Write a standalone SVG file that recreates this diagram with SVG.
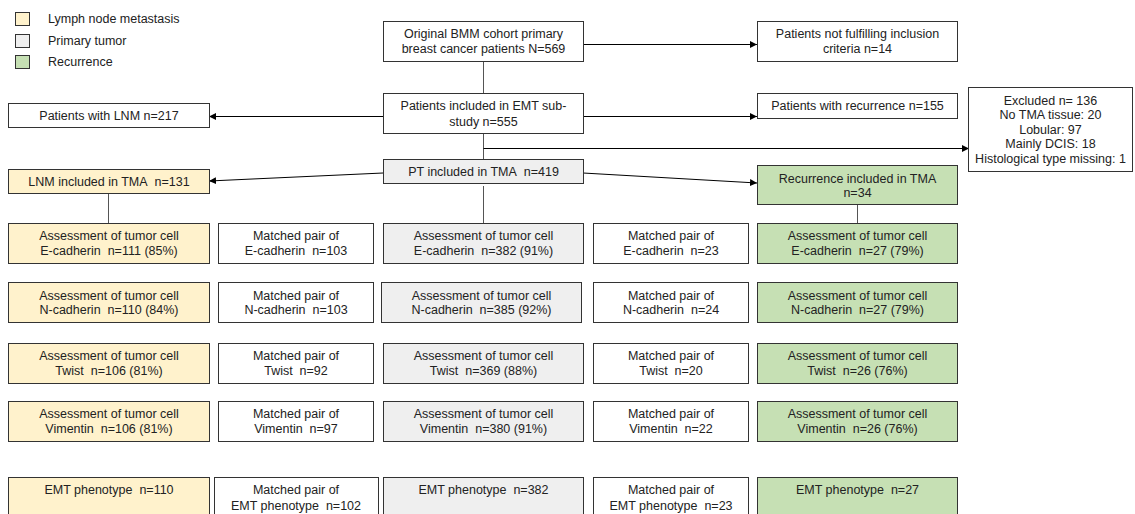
<svg xmlns="http://www.w3.org/2000/svg" width="1135" height="514" viewBox="0 0 1135 514">
<defs>
<marker id="ah" markerUnits="userSpaceOnUse" markerWidth="8" markerHeight="8" refX="7" refY="3.5" orient="auto"><path d="M0,0 L7,3.5 L0,7 z" fill="#000"/></marker>
<style>
.t{font-family:"Liberation Sans",Arial,sans-serif;font-size:12.5px;fill:#222;text-anchor:middle}
.l{font-family:"Liberation Sans",Arial,sans-serif;font-size:12.5px;fill:#222}
.b{stroke:#333;stroke-width:1}
.w{fill:#fff}
.y{fill:#fff2cc}
.g{fill:#efefef}
.gr{fill:#c6e0b4}
.c{stroke:#000;stroke-width:1;fill:none}
.v{stroke:#555;stroke-width:1;fill:none}
</style>
</defs>
<rect width="1135" height="514" fill="#fff"/>
<g id="legend">
<rect class="b y" x="15.5" y="12.5" width="14" height="13"/>
<text class="l" x="48" y="23">Lymph node metastasis</text>
<rect class="b g" x="15.5" y="34.5" width="14" height="13"/>
<text class="l" x="48" y="45">Primary tumor</text>
<rect class="b gr" x="15.5" y="55.5" width="14" height="13"/>
<text class="l" x="48" y="66">Recurrence</text>
</g>
<g id="connectors">
<line class="c" x1="583" y1="44.5" x2="757" y2="44.5" marker-end="url(#ah)"/>
<line class="v" x1="483.5" y1="61" x2="483.5" y2="93"/>
<line class="c" x1="383" y1="116.5" x2="209" y2="116.5" marker-end="url(#ah)"/>
<line class="c" x1="583" y1="116.5" x2="757" y2="116.5" marker-end="url(#ah)"/>
<line class="v" x1="483.5" y1="133" x2="483.5" y2="159"/>
<line class="c" x1="483.5" y1="148.5" x2="969" y2="148.5" marker-end="url(#ah)"/>
<line class="c" x1="383" y1="173" x2="209" y2="181" marker-end="url(#ah)"/>
<line class="c" x1="583" y1="173" x2="757" y2="183" marker-end="url(#ah)"/>
<line class="v" x1="108.5" y1="193" x2="108.5" y2="223"/>
<line class="v" x1="483.5" y1="186" x2="483.5" y2="223"/>
<line class="v" x1="857.5" y1="204" x2="857.5" y2="223"/>
</g>
<g id="original">
<rect class="b w" x="383.5" y="21.5" width="200" height="40"/>
<text class="t" x="483.5" y="38">Original BMM cohort primary</text>
<text class="t" x="483.5" y="53">breast cancer patients N=569</text>
</g>
<g id="not-fulfilling">
<rect class="b w" x="757.5" y="21.5" width="200" height="40"/>
<text class="t" x="857.5" y="38">Patients not fulfilling inclusion</text>
<text class="t" x="857.5" y="53">criteria n=14</text>
</g>
<g id="emt-substudy">
<rect class="b w" x="383.5" y="93.5" width="200" height="40"/>
<text class="t" x="483.5" y="110">Patients included in EMT sub-</text>
<text class="t" x="483.5" y="126">study n=555</text>
</g>
<g id="lnm">
<rect class="b w" x="8.5" y="103.5" width="201" height="24"/>
<text class="t" x="109" y="120">Patients with LNM n=217</text>
</g>
<g id="recurrence">
<rect class="b w" x="757.5" y="93.5" width="200" height="25"/>
<text class="t" x="857.5" y="110">Patients with recurrence n=155</text>
</g>
<g id="excluded">
<rect class="b w" x="968.5" y="87.5" width="164" height="84"/>
<text class="t" x="1050.5" y="104.5">Excluded n= 136</text>
<text class="t" x="1050.5" y="119">No TMA tissue: 20</text>
<text class="t" x="1050.5" y="133.5">Lobular: 97</text>
<text class="t" x="1050.5" y="148">Mainly DCIS: 18</text>
<text class="t" x="1050.5" y="162.5">Histological type missing: 1</text>
</g>
<g id="pt-tma">
<rect class="b g" x="383.5" y="159.5" width="200" height="24"/>
<text class="t" x="483.5" y="176">PT included in TMA&#160; n=419</text>
</g>
<g id="lnm-tma">
<rect class="b y" x="8.5" y="169.5" width="201" height="24"/>
<text class="t" x="109" y="186">LNM included in TMA&#160; n=131</text>
</g>
<g id="rec-tma">
<rect class="b gr" x="757.5" y="165.5" width="200" height="39"/>
<text class="t" x="857.5" y="183">Recurrence included in TMA</text>
<text class="t" x="857.5" y="197">n=34</text>
</g>
<g id="lnm-ecad">
<rect class="b y" x="8.5" y="223.5" width="201" height="40"/>
<text class="t" x="109" y="240">Assessment of tumor cell</text>
<text class="t" x="109" y="255">E-cadherin&#160; n=111 (85%)</text>
</g>
<g id="mp1-ecad">
<rect class="b w" x="218.5" y="223.5" width="155" height="40"/>
<text class="t" x="296" y="240">Matched pair of</text>
<text class="t" x="296" y="255">E-cadherin&#160; n=103</text>
</g>
<g id="pt-ecad">
<rect class="b g" x="383.5" y="223.5" width="200" height="40"/>
<text class="t" x="483.5" y="240">Assessment of tumor cell</text>
<text class="t" x="483.5" y="255">E-cadherin&#160; n=382 (91%)</text>
</g>
<g id="mp2-ecad">
<rect class="b w" x="593.5" y="223.5" width="155" height="40"/>
<text class="t" x="671" y="240">Matched pair of</text>
<text class="t" x="671" y="255">E-cadherin&#160; n=23</text>
</g>
<g id="rec-ecad">
<rect class="b gr" x="757.5" y="223.5" width="200" height="40"/>
<text class="t" x="857.5" y="240">Assessment of tumor cell</text>
<text class="t" x="857.5" y="255">E-cadherin&#160; n=27 (79%)</text>
</g>
<g id="lnm-ncad">
<rect class="b y" x="8.5" y="282.5" width="201" height="40"/>
<text class="t" x="109" y="300">Assessment of tumor cell</text>
<text class="t" x="109" y="314">N-cadherin&#160; n=110 (84%)</text>
</g>
<g id="mp1-ncad">
<rect class="b w" x="218.5" y="282.5" width="155" height="40"/>
<text class="t" x="296" y="300">Matched pair of</text>
<text class="t" x="296" y="314">N-cadherin&#160; n=103</text>
</g>
<g id="pt-ncad">
<rect class="b g" x="381.5" y="282.5" width="200" height="40"/>
<text class="t" x="481.5" y="300">Assessment of tumor cell</text>
<text class="t" x="481.5" y="314">N-cadherin&#160; n=385 (92%)</text>
</g>
<g id="mp2-ncad">
<rect class="b w" x="593.5" y="282.5" width="155" height="40"/>
<text class="t" x="671" y="300">Matched pair of</text>
<text class="t" x="671" y="314">N-cadherin&#160; n=24</text>
</g>
<g id="rec-ncad">
<rect class="b gr" x="757.5" y="282.5" width="200" height="40"/>
<text class="t" x="857.5" y="300">Assessment of tumor cell</text>
<text class="t" x="857.5" y="314">N-cadherin&#160; n=27 (79%)</text>
</g>
<g id="lnm-twist">
<rect class="b y" x="8.5" y="343.5" width="201" height="40"/>
<text class="t" x="109" y="360">Assessment of tumor cell</text>
<text class="t" x="109" y="375">Twist&#160; n=106 (81%)</text>
</g>
<g id="mp1-twist">
<rect class="b w" x="218.5" y="343.5" width="155" height="40"/>
<text class="t" x="296" y="360">Matched pair of</text>
<text class="t" x="296" y="375">Twist&#160; n=92</text>
</g>
<g id="pt-twist">
<rect class="b g" x="383.5" y="343.5" width="200" height="40"/>
<text class="t" x="483.5" y="360">Assessment of tumor cell</text>
<text class="t" x="483.5" y="375">Twist&#160; n=369 (88%)</text>
</g>
<g id="mp2-twist">
<rect class="b w" x="593.5" y="343.5" width="155" height="40"/>
<text class="t" x="671" y="360">Matched pair of</text>
<text class="t" x="671" y="375">Twist&#160; n=20</text>
</g>
<g id="rec-twist">
<rect class="b gr" x="757.5" y="343.5" width="200" height="40"/>
<text class="t" x="857.5" y="360">Assessment of tumor cell</text>
<text class="t" x="857.5" y="375">Twist&#160; n=26 (76%)</text>
</g>
<g id="lnm-vim">
<rect class="b y" x="8.5" y="401.5" width="201" height="40"/>
<text class="t" x="109" y="418">Assessment of tumor cell</text>
<text class="t" x="109" y="433">Vimentin&#160; n=106 (81%)</text>
</g>
<g id="mp1-vim">
<rect class="b w" x="218.5" y="401.5" width="155" height="40"/>
<text class="t" x="296" y="418">Matched pair of</text>
<text class="t" x="296" y="433">Vimentin&#160; n=97</text>
</g>
<g id="pt-vim">
<rect class="b g" x="383.5" y="401.5" width="200" height="40"/>
<text class="t" x="483.5" y="418">Assessment of tumor cell</text>
<text class="t" x="483.5" y="433">Vimentin&#160; n=380 (91%)</text>
</g>
<g id="mp2-vim">
<rect class="b w" x="593.5" y="401.5" width="155" height="40"/>
<text class="t" x="671" y="418">Matched pair of</text>
<text class="t" x="671" y="433">Vimentin&#160; n=22</text>
</g>
<g id="rec-vim">
<rect class="b gr" x="757.5" y="401.5" width="200" height="40"/>
<text class="t" x="857.5" y="418">Assessment of tumor cell</text>
<text class="t" x="857.5" y="433">Vimentin&#160; n=26 (76%)</text>
</g>
<g id="lnm-emt">
<rect class="b y" x="8.5" y="477.5" width="201" height="45"/>
<text class="t" x="109" y="494">EMT phenotype&#160; n=110</text>
</g>
<g id="mp1-emt">
<rect class="b w" x="214.5" y="477.5" width="164" height="45"/>
<text class="t" x="296" y="494">Matched pair of</text>
<text class="t" x="296" y="510">EMT phenotype&#160; n=102</text>
</g>
<g id="pt-emt">
<rect class="b g" x="383.5" y="477.5" width="200" height="45"/>
<text class="t" x="483.5" y="494">EMT phenotype&#160; n=382</text>
</g>
<g id="mp2-emt">
<rect class="b w" x="593.5" y="477.5" width="155" height="45"/>
<text class="t" x="671" y="494">Matched pair of</text>
<text class="t" x="671" y="510">EMT phenotype&#160; n=23</text>
</g>
<g id="rec-emt">
<rect class="b gr" x="757.5" y="477.5" width="200" height="45"/>
<text class="t" x="857.5" y="494">EMT phenotype&#160; n=27</text>
</g>
</svg>
